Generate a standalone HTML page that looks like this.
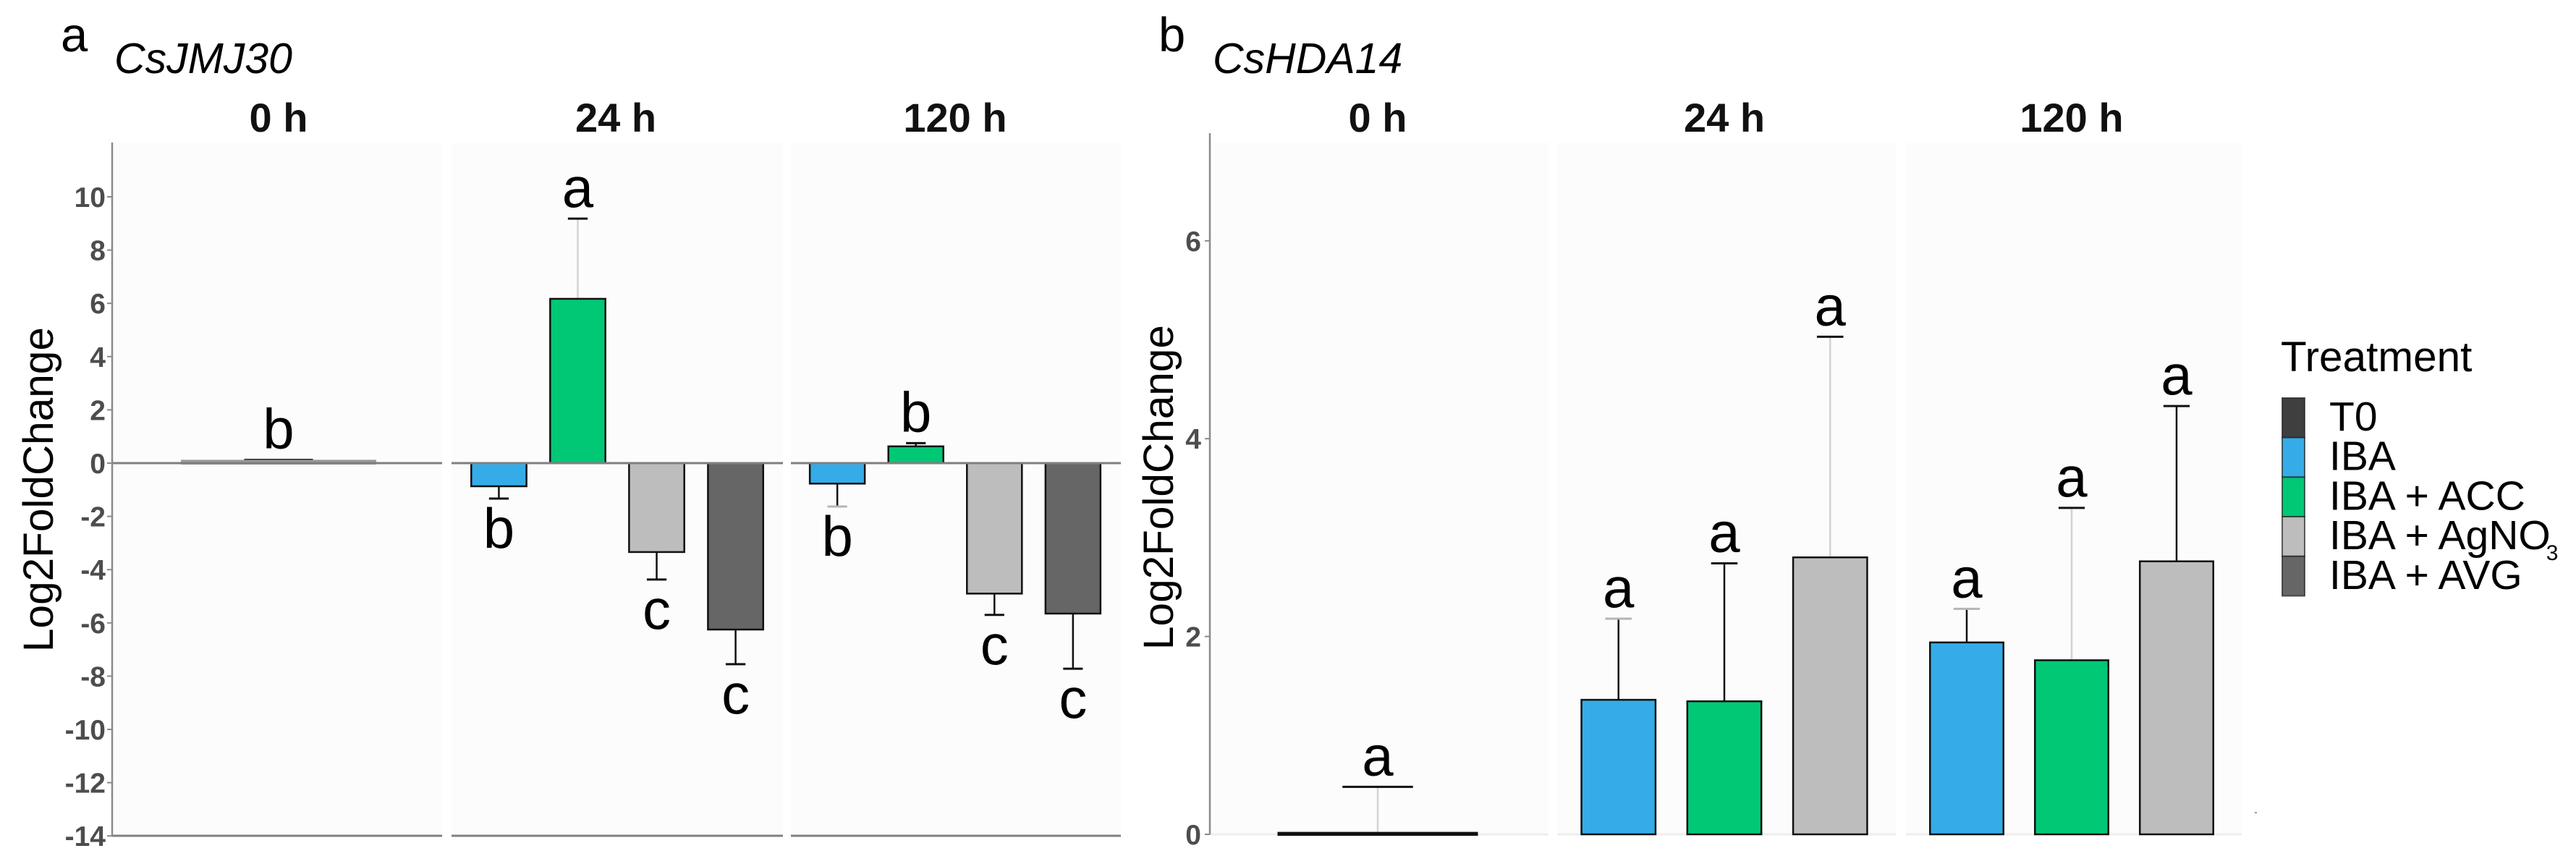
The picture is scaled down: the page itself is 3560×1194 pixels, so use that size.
<!DOCTYPE html>
<html lang="en">
<head>
<meta charset="utf-8">
<title>CsJMJ30 and CsHDA14 Log2FoldChange</title>
<style>
  html, body { margin: 0; padding: 0; background: #fff; }
  body { width: 3560px; height: 1194px; overflow: hidden; }
  svg { display: block; }
  text { font-family: "Liberation Sans", Arial, sans-serif; fill: #000; }
  .tick { font-size: 39px; font-weight: bold; fill: #4d4d4d; text-anchor: end; }
  .strip { font-size: 56px; font-weight: bold; text-anchor: middle; fill: #111; }
  .letter { font-size: 78px; text-anchor: middle; }
  .panel-tag { font-size: 67px; }
  .gene { font-size: 59px; font-style: italic; }
  .ylab { font-size: 58.5px; }
  .legend-title { font-size: 58.5px; }
  .legend-label { font-size: 57px; }
</style>
</head>
<body>
<svg id="figure" xmlns="http://www.w3.org/2000/svg" width="3560" height="1194" viewBox="0 0 3560 1194">
  <rect x="0" y="0" width="3560" height="1194" fill="#ffffff"/>
  <text class="panel-tag" x="84" y="71">a</text>
  <text class="gene" x="158" y="101">CsJMJ30</text>
  <text class="panel-tag" x="1601" y="71">b</text>
  <text class="gene" x="1676" y="101">CsHDA14</text>
  <text class="ylab" transform="translate(73 901) rotate(-90)">Log2FoldChange</text>
  <text class="ylab" transform="translate(1621 898) rotate(-90)">Log2FoldChange</text>
  <text class="legend-title" x="3152" y="513">Treatment</text>
  <rect x="3116" y="1122" width="3" height="2" fill="#999999"/>
  <g id="plots"></g>
  <g id="legend"></g>
</svg>
<script>
// ---- Data ----
const hourLabels = ['0 h', '24 h', '120 h'];
const treatments = ['T0', 'IBA', 'IBA + ACC', 'IBA + AgNO3', 'IBA + AVG'];

const ticksA = [10, 8, 6, 4, 2, 0, -2, -4, -6, -8, -10, -12, -14];
const ticksB = [6, 4, 2, 0];

const a0Treatments = ['T0'];
const a0Values = [0.07];
const a0ErrorEnds = [0.12];
const a0Letters = ['b'];

const a24Treatments = ['IBA', 'IBA + ACC', 'IBA + AgNO3', 'IBA + AVG'];
const a24Values = [-0.87, 6.17, -3.34, -6.25];
const a24ErrorEnds = [-1.33, 9.18, -4.37, -7.55];
const a24Letters = ['b', 'a', 'c', 'c'];

const a120Treatments = ['IBA', 'IBA + ACC', 'IBA + AgNO3', 'IBA + AVG'];
const a120Values = [-0.77, 0.63, -4.9, -5.65];
const a120ErrorEnds = [-1.63, 0.75, -5.7, -7.72];
const a120Letters = ['b', 'b', 'c', 'c'];

const b0Treatments = ['T0'];
const b0Values = [0.01];
const b0ErrorEnds = [0.48];
const b0Letters = ['a'];

const b24Treatments = ['IBA', 'IBA + ACC', 'IBA + AgNO3'];
const b24Values = [1.36, 1.345, 2.8];
const b24ErrorEnds = [2.18, 2.74, 5.03];
const b24Letters = ['a', 'a', 'a'];

const b120Treatments = ['IBA', 'IBA + ACC', 'IBA + AgNO3'];
const b120Values = [1.94, 1.76, 2.76];
const b120ErrorEnds = [2.28, 3.3, 4.33];
const b120Letters = ['a', 'a', 'a'];

// ---- Styling lookups ----
const fillFor = {
  'T0': '#3f3f3f',
  'IBA': '#35ace8',
  'IBA + ACC': '#00c875',
  'IBA + AgNO3': '#bdbdbd',
  'IBA + AVG': '#666666'
};
const paleStems = new Set(['a24:IBA + ACC', 'b0:T0', 'b24:IBA + AgNO3', 'b120:IBA + ACC']);
const paleCaps = new Set(['a120:IBA', 'b24:IBA', 'b120:IBA']);

// ---- Layout ----
const NS = 'http://www.w3.org/2000/svg';
const plots = document.getElementById('plots');
const legend = document.getElementById('legend');

const chartA = {
  id: 'a', zeroPx: 640, unitPx: 36.8, top: 197, bottom: 1155, axisX: 155, axisTop: 197,
  ticks: ticksA, tickRight: 146, baseColor: '#808080', baseWidth: 3, hasFloor: true, baseOnTop: true,
  t0Stroke: '#999999', t0StrokeWidth: 4
};
const chartB = {
  id: 'b', zeroPx: 1153, unitPx: 136.7, top: 197, bottom: 1153, axisX: 1672, axisTop: 184,
  ticks: ticksB, tickRight: 1660, baseColor: '#eeeeee', baseWidth: 3, hasFloor: false, baseOnTop: false,
  t0Stroke: '#111111', t0StrokeWidth: 4
};

const panelsA = [
  { key: 'a0', hour: 0, left: 155, right: 611, shift: 2, names: a0Treatments, values: a0Values, ends: a0ErrorEnds, letters: a0Letters },
  { key: 'a24', hour: 1, left: 624, right: 1082, shift: 0, names: a24Treatments, values: a24Values, ends: a24ErrorEnds, letters: a24Letters },
  { key: 'a120', hour: 2, left: 1093, right: 1549, shift: -1, names: a120Treatments, values: a120Values, ends: a120ErrorEnds, letters: a120Letters }
];
const panelsB = [
  { key: 'b0', hour: 0, left: 1672, right: 2140, shift: -2, names: b0Treatments, values: b0Values, ends: b0ErrorEnds, letters: b0Letters },
  { key: 'b24', hour: 1, left: 2152, right: 2620, shift: -3, names: b24Treatments, values: b24Values, ends: b24ErrorEnds, letters: b24Letters },
  { key: 'b120', hour: 2, left: 2634, right: 3098, shift: -3, names: b120Treatments, values: b120Values, ends: b120ErrorEnds, letters: b120Letters }
];

function mk(tag, attrs, parent) {
  const el = document.createElementNS(NS, tag);
  for (const k in attrs) el.setAttribute(k, attrs[k]);
  (parent || plots).appendChild(el);
  return el;
}
function yScale(chart, v) { return chart.zeroPx - chart.unitPx * v; }
function bandStep(panel) { return (panel.right - panel.left) / (panel.names.length - 1 + 1.2); }
function xScale(panel, i) { return panel.left + panel.shift + bandStep(panel) * (0.6 + i); }
function slug(s) { return s.toLowerCase().replace(/[^a-z0-9]+/g, '-'); }

function drawPanelBackground(chart, panel) {
  const bg = mk('rect', { x: panel.left, y: chart.top, width: panel.right - panel.left, height: chart.bottom - chart.top, fill: '#fcfcfc' });
  
  
}

function drawPanelMarks(chart, panel) {
  const step = bandStep(panel);
  const barW = step * 0.7;
  const capW = step * 0.25;
  panel.names.forEach(function (name, i) {
    const id = panel.key + ':' + name;
    const cx = xScale(panel, i);
    const y0 = yScale(chart, 0);
    const yv = yScale(chart, panel.values[i]);
    const ye = yScale(chart, panel.ends[i]);

    const stem = mk('line', { x1: cx, x2: cx, y1: yv, y2: ye, stroke: paleStems.has(id) ? '#d2d2d2' : '#111111', 'stroke-width': 2.5 });
    
    

    const cap = mk('line', { x1: cx - capW / 2, x2: cx + capW / 2, y1: ye, y2: ye, stroke: paleCaps.has(id) ? '#b5b5b5' : '#111111', 'stroke-width': 3 });
    
    

    const isThin = name === 'T0';
    const bar = mk('rect', {
      x: cx - barW / 2, y: Math.min(y0, yv), width: barW, height: Math.abs(y0 - yv),
      fill: fillFor[name], stroke: isThin ? chart.t0Stroke : '#111111', 'stroke-width': isThin ? chart.t0StrokeWidth : 2.5
    });
    
    

    const above = panel.ends[i] >= 0;
    const letter = mk('text', { class: 'letter', x: cx, y: above ? ye - 16 : ye + 68 });
    letter.textContent = panel.letters[i];
    
    
  });

  const strip = mk('text', { class: 'strip', x: (chart.id === 'a' ? [385, 851, 1320] : [1904, 2383, 2863])[panel.hour], y: 182 });
  strip.textContent = hourLabels[panel.hour];
  
  
}

function drawPanelBase(chart, panel) {
  const base = mk('line', { x1: panel.left, x2: panel.right, y1: yScale(chart, 0), y2: yScale(chart, 0), stroke: chart.baseColor, 'stroke-width': chart.baseWidth });
  
  
  if (chart.hasFloor) {
    const floor = mk('line', { x1: panel.left, x2: panel.right, y1: chart.bottom, y2: chart.bottom, stroke: '#808080', 'stroke-width': 3 });
    
    
  }
}

function drawAxis(chart) {
  const axis = mk('line', { x1: chart.axisX, x2: chart.axisX, y1: chart.axisTop, y2: chart.bottom, stroke: '#8a8a8a', 'stroke-width': 2.5 });
  
  
  chart.ticks.forEach(function (t) {
    const y = yScale(chart, t);
    const mark = mk('line', { x1: chart.axisX - 7, x2: chart.axisX, y1: y, y2: y, stroke: '#8a8a8a', 'stroke-width': 2 });
    
    
    const label = mk('text', { class: 'tick', x: chart.tickRight, y: y + 14 });
    label.textContent = String(t);
    
    
  });
}

function drawChart(chart, panels) {
  panels.forEach(function (p) { drawPanelBackground(chart, p); });
  if (!chart.baseOnTop) panels.forEach(function (p) { drawPanelBase(chart, p); });
  panels.forEach(function (p) { drawPanelMarks(chart, p); });
  if (chart.baseOnTop) panels.forEach(function (p) { drawPanelBase(chart, p); });
  drawAxis(chart);
}

function drawLegend() {
  const swatchTop = 550, swatchH = 54.7;
  treatments.forEach(function (name, i) {
    const sw = mk('rect', { x: 3154, y: swatchTop + i * swatchH, width: 31, height: swatchH, fill: fillFor[name], stroke: '#222222', 'stroke-opacity': 0.7, 'stroke-width': 2 }, legend);
    
    

    const label = mk('text', { class: 'legend-label', x: 3219, y: swatchTop + 45 + i * swatchH }, legend);
    
    
    const m = name.match(/^(.*O)3$/);
    if (m) {
      label.appendChild(document.createTextNode(m[1]));
      const sub = mk('tspan', { dx: -6, dy: 15, 'font-size': 30 }, label);
      sub.textContent = '3';
    } else {
      label.textContent = name;
    }
  });
}

drawChart(chartA, panelsA);
drawChart(chartB, panelsB);
drawLegend();
</script>
</body>
</html>
